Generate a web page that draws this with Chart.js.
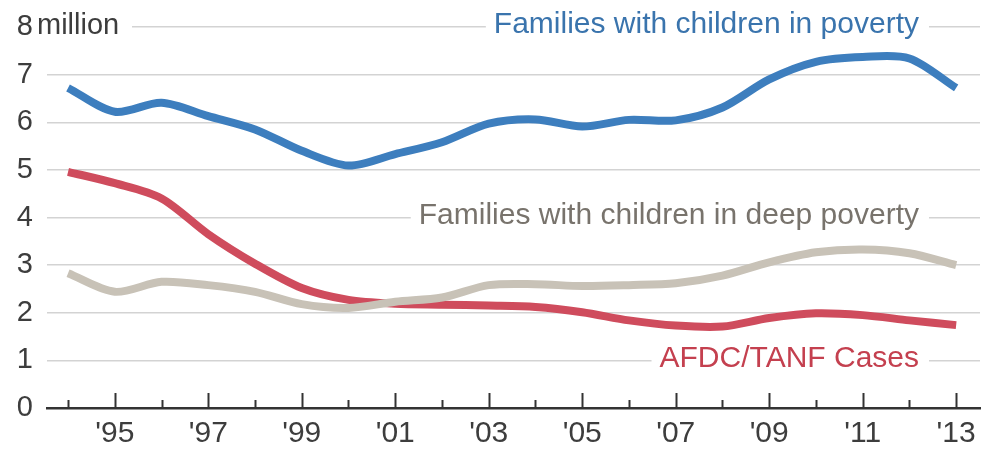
<!DOCTYPE html>
<html>
<head>
<meta charset="utf-8">
<script src="https://cdn.jsdelivr.net/npm/chart.js@4/dist/chart.umd.min.js"></script>
<style>
  html, body { margin: 0; padding: 0; background: #fff; }
  #wrap { width: 988px; height: 449px; }
</style>
</head>
<body>
<div id="wrap"><canvas id="chart"></canvas></div>
<script>
// Data (millions)
const years = [1994, 1995, 1996, 1997, 1998, 1999, 2000, 2001, 2002, 2003,
               2004, 2005, 2006, 2007, 2008, 2009, 2010, 2011, 2012, 2013];
const poverty = [6.72, 6.22, 6.41, 6.13, 5.85, 5.40, 5.09, 5.33, 5.58, 5.97,
                 6.06, 5.91, 6.05, 6.04, 6.31, 6.90, 7.27, 7.37, 7.34, 6.72];
const deepPoverty = [2.83, 2.44, 2.65, 2.58, 2.44, 2.18, 2.10, 2.23, 2.32, 2.58,
                     2.60, 2.56, 2.58, 2.62, 2.78, 3.06, 3.27, 3.33, 3.25, 3.00];
const afdc = [4.96, 4.72, 4.40, 3.65, 3.03, 2.52, 2.27, 2.19, 2.17, 2.15,
              2.12, 2.01, 1.84, 1.73, 1.71, 1.89, 1.99, 1.95, 1.84, 1.74];
const yTicks = [0, 1, 2, 3, 4, 5, 6, 7, 8];

const FONT = '"Liberation Sans", Arial, sans-serif';

const seriesLabels = [
    { text: 'Families with children in poverty', at: 8, color: '#3a74ad' },
    { text: 'Families with children in deep poverty', at: 4, color: '#78736c' },
    { text: 'AFDC/TANF Cases', at: 1, color: '#c4404f' }
];

const toPoints = (values) => values.map((v, i) => ({ x: years[i], y: v }));

const decor = {
    id: 'decor',
    beforeDatasetsDraw(chart) {
        const { ctx, chartArea, scales: { x, y } } = chart;
        ctx.save();
        ctx.textBaseline = 'middle';

        // "million" next to the top tick, with a break in the gridline
        const topY = y.getPixelForValue(8);
        ctx.fillStyle = '#fff';
        ctx.fillRect(chartArea.left - 1, topY - 4, 86, 8);
        ctx.fillStyle = '#3d3d3d';
        ctx.textAlign = 'left';
        ctx.font = '29px ' + FONT;
        ctx.fillText('million', 37, topY - 1);

        // series labels sitting in gaps of the gridlines
        ctx.font = '30px ' + FONT;
        const right = chartArea.right - 61;
        seriesLabels.forEach((lab) => {
            const py = y.getPixelForValue(lab.at);
            const w = ctx.measureText(lab.text).width;
            ctx.fillStyle = '#fff';
            ctx.fillRect(right - w - 8, py - 4, w + 18, 8);
            ctx.fillStyle = lab.color;
            ctx.textAlign = 'right';
            ctx.fillText(lab.text, right, py - 2);
        });

        // upward tick marks on the year axis
        ctx.strokeStyle = '#333';
        ctx.lineWidth = 2;
        years.forEach((yr) => {
            const px = Math.round(x.getPixelForValue(yr)) + 0.5;
            const len = yr % 2 === 1 ? 15 : 8;
            ctx.beginPath();
            ctx.moveTo(px, chartArea.bottom);
            ctx.lineTo(px, chartArea.bottom - len);
            ctx.stroke();
        });
        ctx.restore();
    }
};

const lineStyle = { borderWidth: 8, pointRadius: 0, tension: 0.3, fill: false, borderCapStyle: 'butt', borderJoinStyle: 'round' };

new Chart(document.getElementById('chart'), {
    type: 'line',
    data: {
        datasets: [
            { label: 'Families with children in poverty', data: toPoints(poverty), borderColor: '#3d7ebe', ...lineStyle },
            { label: 'Families with children in deep poverty', data: toPoints(deepPoverty), borderColor: '#c8c2b7', ...lineStyle },
            { label: 'AFDC/TANF Cases', data: toPoints(afdc), borderColor: '#cf4c5d', ...lineStyle }
        ]
    },
    options: {
        responsive: true,
        maintainAspectRatio: false,
        animation: false,
        layout: { padding: { top: 27, right: 8, bottom: 0, left: 0 } },
        plugins: { legend: { display: false }, tooltip: { enabled: false } },
        scales: {
            x: {
                type: 'linear',
                min: 1993.55,
                max: 2013.51,
                afterFit: (scale) => { scale.height = 41; scale.paddingLeft = 0; scale.paddingRight = 0; },
                grid: { display: false, drawTicks: false },
                border: { display: true, color: '#333', width: 2.5 },
                ticks: {
                    stepSize: 1,
                    autoSkip: false,
                    includeBounds: false,
                    maxRotation: 0,
                    padding: 8,
                    color: '#3d3d3d',
                    font: { family: FONT, size: 30 },
                    callback: (v) => (Number.isInteger(v) && v % 2 === 1) ? "'" + String(v).slice(2) : null
                }
            },
            y: {
                min: 0,
                max: 8,
                afterFit: (scale) => { scale.width = 47; scale.paddingTop = 0; scale.paddingBottom = 0; },
                afterBuildTicks: (scale) => { scale.ticks = yTicks.map((v) => ({ value: v })); },
                border: { display: false },
                grid: {
                    drawTicks: false,
                    lineWidth: 1.5,
                    color: (c) => c.tick && c.tick.value === 0 ? 'rgba(0,0,0,0)' : '#d3d3d3'
                },
                ticks: {
                    padding: 14,
                    color: '#3d3d3d',
                    font: { family: FONT, size: 29 }
                }
            }
        }
    },
    plugins: [decor]
});
</script>
</body>
</html>
